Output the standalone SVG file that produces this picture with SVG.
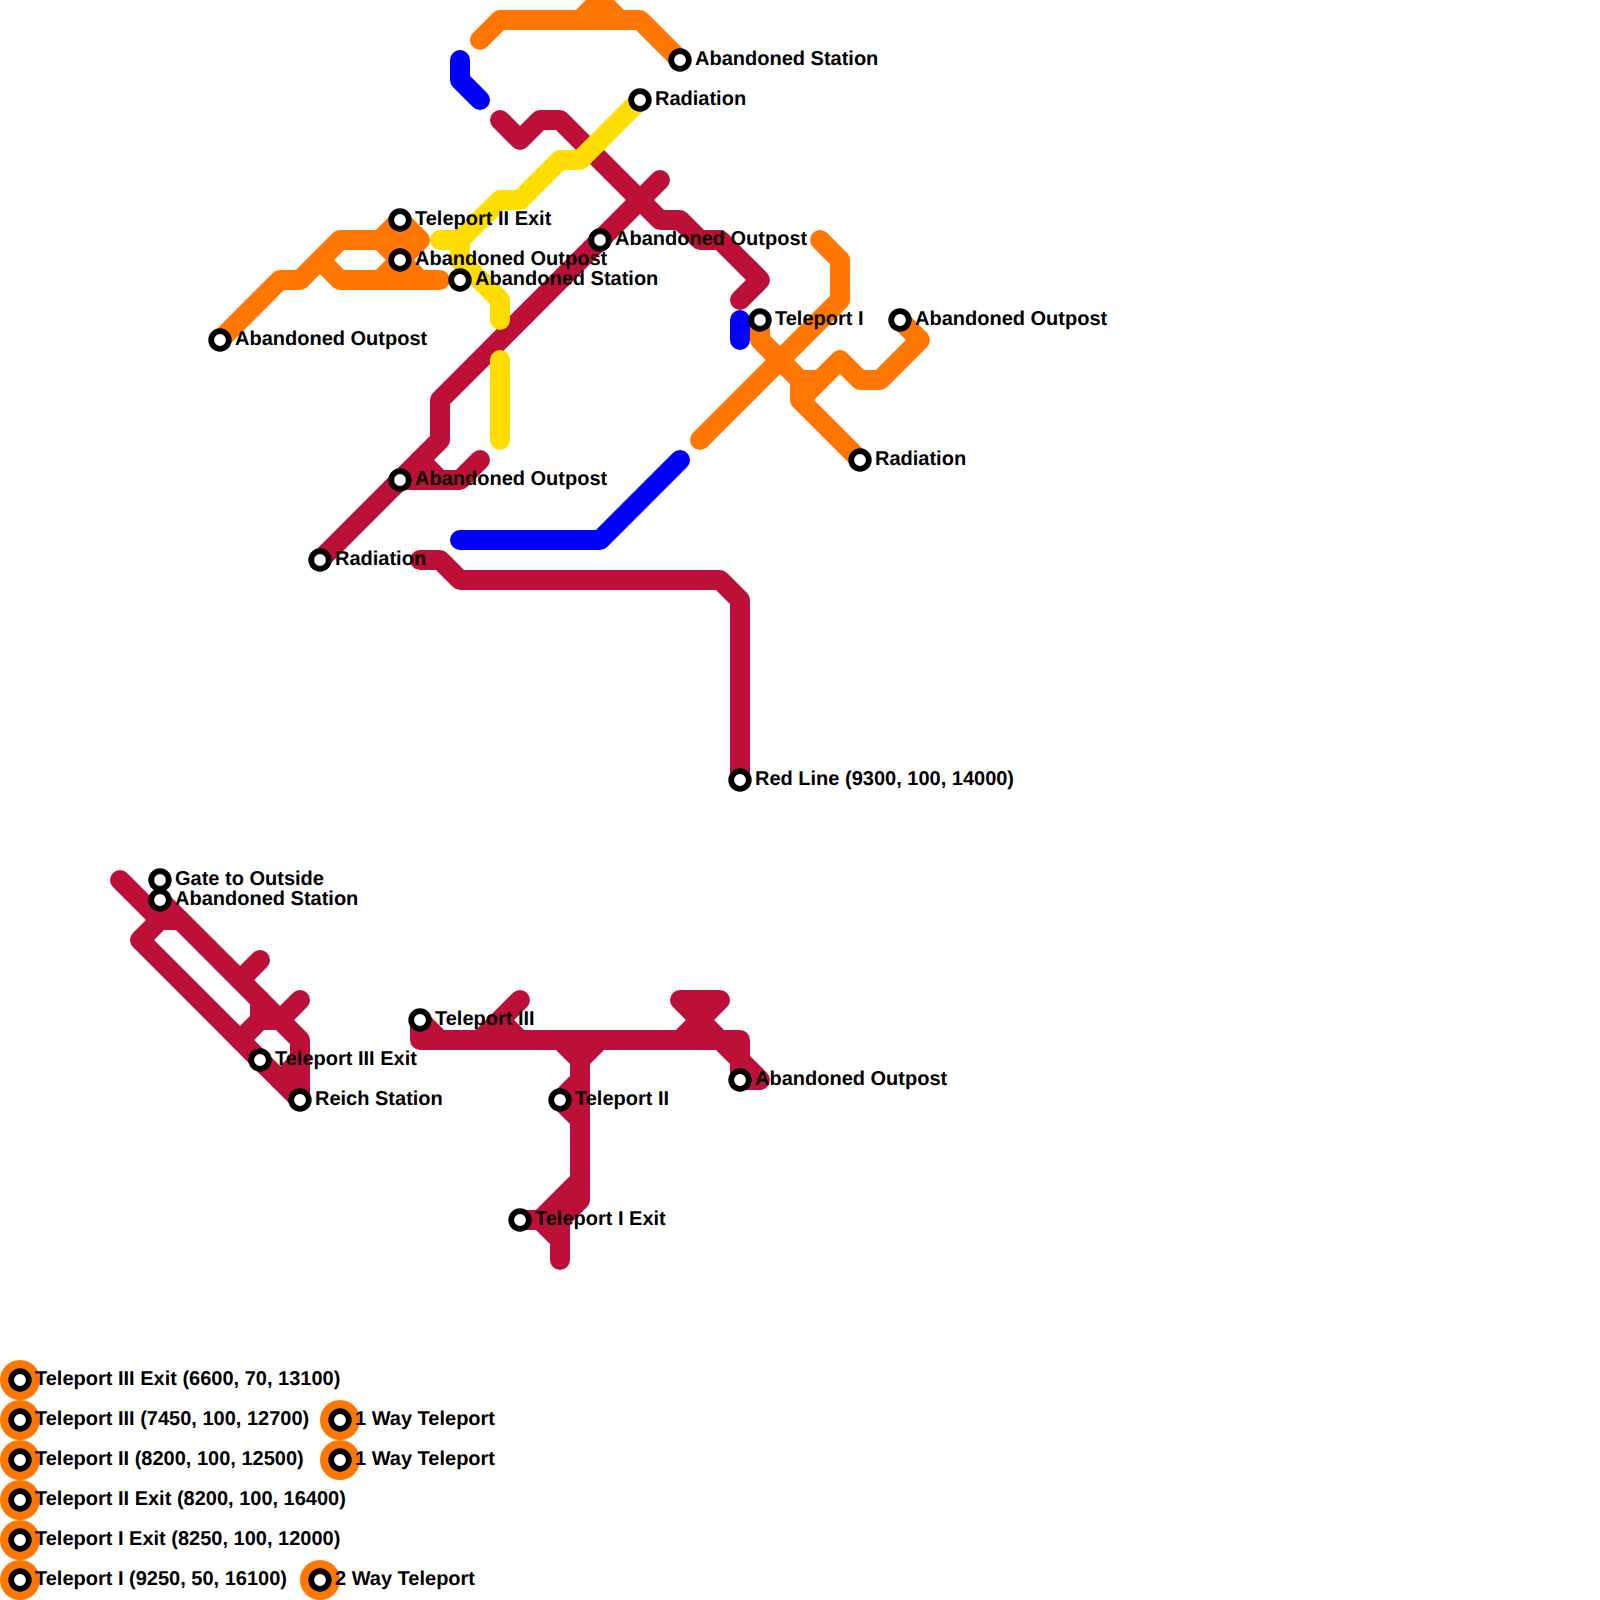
<svg xmlns="http://www.w3.org/2000/svg" width="1600" height="1600" viewBox="0 0 1600 1600">
<style>
.l{fill:none;stroke-width:20;stroke-linecap:round;stroke-linejoin:round}
.r{stroke:#bd1038}.o{stroke:#ff7700}.y{stroke:#ffdd00}.b{stroke:#0000ff}
.s{fill:#fff;stroke:#000;stroke-width:5.8}
.h{fill:#ff7700}
text{font-family:"Liberation Sans",Arial,sans-serif;font-weight:700;font-size:20px;fill:#000;text-rendering:geometricPrecision}
</style>
<rect width="1600" height="1600" fill="#fff"/>
<g id="connectors">
<g id="line-red" class="l r">
<path d="M500 120L520 140L540 120L560 120L660 220L680 220L700 240L720 240L760 280L740 300"/>
<path d="M660 180L440 400L440 440L320 560"/>
<path d="M420 460L440 480L460 480L480 460M400 480L460 480"/>
<path d="M420 560L440 560L460 580L720 580L740 600L740 780"/>
<path d="M120 880L160 920L140 940L300 1100"/>
<path d="M160 920L180 920M160 900L300 1040L300 1100"/>
<path d="M260 960L240 980M260 1000L260 1020M300 1000L280 1020L260 1020L240 1040M300 1060L280 1080"/>
<path d="M420 1020L440 1040M420 1020L420 1040L740 1040L740 1080L760 1080L740 1060L720 1040"/>
<path d="M480 1040L520 1000M500 1020L520 1040"/>
<path d="M560 1040L580 1060L600 1040M580 1060L580 1200L560 1220L560 1260M580 1180L540 1220L520 1220M540 1220L560 1240"/>
<path d="M580 1080L560 1100L580 1120"/>
<path d="M680 1040L700 1020L680 1000L720 1000L700 1020L720 1040"/>
</g>
<g id="line-orange" class="l o">
<path d="M480 40L500 20L640 20L680 60M580 20L600 0L620 20"/>
<path d="M220 340L280 280L300 280L340 240L420 240L400 220L380 240L400 260L420 280M420 240L380 280"/>
<path d="M320 260L340 280L440 280"/>
<path d="M700 440L840 300L840 260L820 240"/>
<path d="M760 320L760 340L800 380L800 400L860 460M800 380L820 380M800 400L840 360L860 380L880 380L920 340L900 320"/>
</g>
<g id="line-yellow" class="l y">
<path d="M640 100L580 160L560 160L520 200L500 200L460 240L440 240M460 240L460 260L500 300L500 320"/>
<path d="M500 360L500 440"/>
</g>
<g id="line-blue" class="l b">
<path d="M460 60L460 80L480 100"/>
<path d="M740 320L740 340"/>
<path d="M460 540L600 540L680 460"/>
</g>
</g>
<g id="n1"><circle class="s" cx="680" cy="60" r="8.8"/><text x="695" y="64.5">Abandoned Station</text></g>
<g id="n2"><circle class="s" cx="640" cy="100" r="8.8"/><text x="655" y="104.5">Radiation</text></g>
<g id="n3"><circle class="s" cx="400" cy="220" r="8.8"/><text x="415" y="224.5">Teleport II Exit</text></g>
<g id="n4"><circle class="s" cx="400" cy="260" r="8.8"/><text x="415" y="264.5">Abandoned Outpost</text></g>
<g id="n5"><circle class="s" cx="460" cy="280" r="8.8"/><text x="475" y="284.5">Abandoned Station</text></g>
<g id="n6"><circle class="s" cx="600" cy="240" r="8.8"/><text x="615" y="244.5">Abandoned Outpost</text></g>
<g id="n7"><circle class="s" cx="220" cy="340" r="8.8"/><text x="235" y="344.5">Abandoned Outpost</text></g>
<g id="n8"><circle class="s" cx="760" cy="320" r="8.8"/><text x="775" y="324.5">Teleport I</text></g>
<g id="n9"><circle class="s" cx="900" cy="320" r="8.8"/><text x="915" y="324.5">Abandoned Outpost</text></g>
<g id="n10"><circle class="s" cx="860" cy="460" r="8.8"/><text x="875" y="464.5">Radiation</text></g>
<g id="n11"><circle class="s" cx="400" cy="480" r="8.8"/><text x="415" y="484.5">Abandoned Outpost</text></g>
<g id="n12"><circle class="s" cx="320" cy="560" r="8.8"/><text x="335" y="564.5">Radiation</text></g>
<g id="n13"><circle class="s" cx="740" cy="780" r="8.8"/><text x="755" y="784.5">Red Line (9300, 100, 14000)</text></g>
<g id="n14"><circle class="s" cx="160" cy="880" r="8.8"/><text x="175" y="884.5">Gate to Outside</text></g>
<g id="n15"><circle class="s" cx="160" cy="900" r="8.8"/><text x="175" y="904.5">Abandoned Station</text></g>
<g id="n16"><circle class="s" cx="260" cy="1060" r="8.8"/><text x="275" y="1064.5">Teleport III Exit</text></g>
<g id="n17"><circle class="s" cx="300" cy="1100" r="8.8"/><text x="315" y="1104.5">Reich Station</text></g>
<g id="n18"><circle class="s" cx="420" cy="1020" r="8.8"/><text x="435" y="1024.5">Teleport III</text></g>
<g id="n19"><circle class="s" cx="560" cy="1100" r="8.8"/><text x="575" y="1104.5">Teleport II</text></g>
<g id="n20"><circle class="s" cx="520" cy="1220" r="8.8"/><text x="535" y="1224.5">Teleport I Exit</text></g>
<g id="n21"><circle class="s" cx="740" cy="1080" r="8.8"/><text x="755" y="1084.5">Abandoned Outpost</text></g>
<g id="l1"><circle class="h" cx="20" cy="1380" r="20"/><circle class="s" cx="20" cy="1380" r="8.8"/><text x="35" y="1384.5">Teleport III Exit (6600, 70, 13100)</text></g>
<g id="l2"><circle class="h" cx="20" cy="1420" r="20"/><circle class="s" cx="20" cy="1420" r="8.8"/><text x="35" y="1424.5">Teleport III (7450, 100, 12700)</text></g>
<g id="l3"><circle class="h" cx="20" cy="1460" r="20"/><circle class="s" cx="20" cy="1460" r="8.8"/><text x="35" y="1464.5">Teleport II (8200, 100, 12500)</text></g>
<g id="l4"><circle class="h" cx="20" cy="1500" r="20"/><circle class="s" cx="20" cy="1500" r="8.8"/><text x="35" y="1504.5">Teleport II Exit (8200, 100, 16400)</text></g>
<g id="l5"><circle class="h" cx="20" cy="1540" r="20"/><circle class="s" cx="20" cy="1540" r="8.8"/><text x="35" y="1544.5">Teleport I Exit (8250, 100, 12000)</text></g>
<g id="l6"><circle class="h" cx="20" cy="1580" r="20"/><circle class="s" cx="20" cy="1580" r="8.8"/><text x="35" y="1584.5">Teleport I (9250, 50, 16100)</text></g>
<g id="l7"><circle class="h" cx="340" cy="1420" r="20"/><circle class="s" cx="340" cy="1420" r="8.8"/><text x="355" y="1424.5">1 Way Teleport</text></g>
<g id="l8"><circle class="h" cx="340" cy="1460" r="20"/><circle class="s" cx="340" cy="1460" r="8.8"/><text x="355" y="1464.5">1 Way Teleport</text></g>
<g id="l9"><circle class="h" cx="320" cy="1580" r="20"/><circle class="s" cx="320" cy="1580" r="8.8"/><text x="335" y="1584.5">2 Way Teleport</text></g>
</svg>
